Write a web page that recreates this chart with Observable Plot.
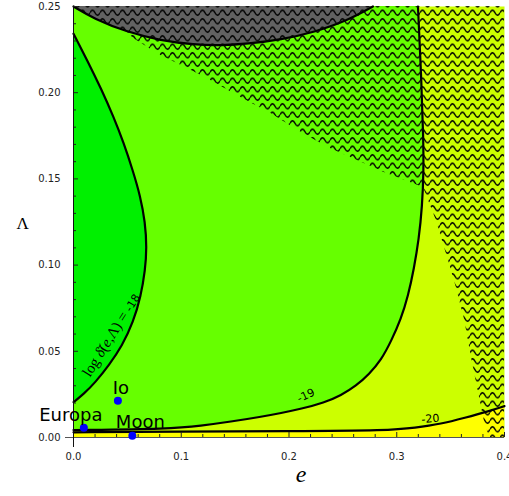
<!DOCTYPE html>
<html><head><meta charset="utf-8">
<script src="https://cdn.jsdelivr.net/npm/d3@7"></script>
<script src="https://cdn.jsdelivr.net/npm/@observablehq/plot@0.6"></script>
<style>body{margin:0;background:#fff}svg{display:block}</style>
</head><body><div id="chart"></div>
<script>
// ---- data: [e, Λ] ----
const xTicks = [0, 0.1, 0.2, 0.3, 0.4];
const yTicks = [0, 0.05, 0.10, 0.15, 0.20, 0.25];

const contour18 = [[0,0.0205],[0.0096,0.0253],[0.0200,0.0318],[0.0330,0.0420],[0.0450,0.0530],[0.0555,0.0670],[0.0625,0.0820],[0.0665,0.0970],[0.0680,0.1100],[0.0665,0.1250],[0.0620,0.1400],[0.0550,0.1550],[0.0465,0.1710],[0.0372,0.1860],[0.0255,0.2025],[0.0130,0.2185],[0,0.2342]];
const contour19 = [[0,0.0043],[0.0902,0.0050],[0.1181,0.0068],[0.146,0.0092],[0.174,0.0120],[0.1926,0.0142],[0.2112,0.0166],[0.2326,0.0202],[0.2484,0.0245],[0.2623,0.0300],[0.2744,0.0368],[0.2856,0.0450],[0.2949,0.0560],[0.3040,0.0690],[0.3105,0.0820],[0.3160,0.0980],[0.3205,0.1150],[0.3236,0.1340],[0.3250,0.1549],[0.3246,0.1750],[0.3230,0.2050],[0.3197,0.2500]];
const contour20 = [[0,0.0030],[0.1,0.0034],[0.2,0.0036],[0.2933,0.0041],[0.3166,0.0056],[0.3414,0.0079],[0.3631,0.0114],[0.3848,0.0151],[0.4,0.0182]];
const topBoundary = [[0,0.25],[0.0189,0.2429],[0.05,0.2351],[0.0809,0.2303],[0.1119,0.2278],[0.1367,0.2274],[0.1616,0.2283],[0.1926,0.2308],[0.2235,0.2351],[0.2546,0.2419],[0.2779,0.25]];
const hatchEdge = [[0,0.25],[0.0189,0.2429],[0.05,0.2351],[0.0558,0.2314],[0.0809,0.2216],[0.106,0.2140],[0.1274,0.2071],[0.1553,0.1972],[0.1833,0.1879],[0.2084,0.1781],[0.2363,0.1682],[0.2884,0.1537],[0.3247,0.1450],[0.3259,0.1433],[0.3367,0.1259],[0.346,0.1067],[0.3553,0.087],[0.3631,0.0679],[0.3693,0.0464],[0.3755,0.0273],[0.3817,0.0081],[0.3863,0],[0.4,0]];

const bodyNames = ["Europa", "Io", "Moon"];
const bodyE = [0.0096, 0.0412, 0.0546];
const bodyL = [0.0056, 0.0213, 0.0010];

const contourLevels = ["-18", "-19", "-20"];

// ---- tables ----
const pts = a => a.map(([e, L]) => ({e, L}));
const c18 = pts(contour18), c19 = pts(contour19), c20 = pts(contour20);
const top_ = pts(topBoundary), hatch = pts(hatchEdge);
const bodies = bodyNames.map((name, i) => ({name, e: bodyE[i], L: bodyL[i]}));

const W = 509, H = 496, mL = 73, mR = 5, mT = 6, mB = 59;
const plotW = W - mL - mR, plotH = H - mT - mB;
const HATCH = "#010203";
const curve = "basis";
const lw = 2.2;

const yMinor = d3.range(1, 25).map(i => i / 100).filter((d, i) => (i + 1) % 5 !== 0);
const xMinor = d3.range(1, 20).map(i => i / 50).filter((d, i) => (i + 1) % 5 !== 0);

const sans = "DejaVu Sans";
const serif = "Liberation Serif";

const svg = Plot.plot({
  width: W, height: H,
  marginLeft: mL, marginRight: mR, marginTop: mT, marginBottom: mB,
  x: {domain: [0, 0.4], axis: null},
  y: {domain: [0, 0.25], axis: null},
  style: {fontFamily: sans, fontSize: "10px", background: "white", overflow: "visible"},
  marks: [
    Plot.frame({fill: "#ccff00", stroke: "none"}),
    Plot.areaX(c19, {y: "L", x1: 0, x2: "e", fill: "#66ff00", curve}),
    Plot.areaX(c18, {y: "L", x1: 0, x2: "e", fill: "#00f000", curve}),
    Plot.areaY(c20, {x: "e", y1: 0, y2: "L", fill: "#ffff00", curve}),
    Plot.areaY(top_, {x: "e", y1: "L", y2: 0.25, fill: "#626262", curve}),
    Plot.areaY(hatch, {x: "e", y1: "L", y2: 0.25, fill: HATCH}),
    Plot.line(c18, {x: "e", y: "L", stroke: "black", strokeWidth: lw, curve}),
    Plot.line(c19, {x: "e", y: "L", stroke: "black", strokeWidth: lw, curve}),
    Plot.line(c20, {x: "e", y: "L", stroke: "black", strokeWidth: lw, curve}),
    Plot.line(top_, {x: "e", y: "L", stroke: "black", strokeWidth: lw, curve}),
    // ticks (inward)
    Plot.tickY(yMinor, {y: d => d, insetRight: plotW - 3, stroke: "#222"}),
    Plot.tickY(yTicks, {y: d => d, insetRight: plotW - 5, stroke: "#222"}),
    Plot.tickX(xMinor, {x: d => d, insetTop: plotH - 3, stroke: "#222"}),
    Plot.tickX(xTicks, {x: d => d, insetTop: plotH - 5, stroke: "#222"}),
    // axis lines
    Plot.ruleY([0], {insetLeft: -8, stroke: "#555"}),
    Plot.ruleX([0], {insetBottom: -10, stroke: "#111"}),
    Plot.axisY({ticks: yTicks, tickSize: 0, tickPadding: 13, tickFormat: d3.format(".2f"), label: null, fill: "#222", fontSize: 10}),
    Plot.axisX({ticks: xTicks, tickSize: 0, tickPadding: 15, tickFormat: d3.format(".1f"), label: null, fill: "#222", fontSize: 10}),
    Plot.text(["e"], {frameAnchor: "bottom", text: d => d, dx: 12, dy: 44, fontSize: 24, fontStyle: "italic", fontFamily: serif}),
    Plot.text(["Λ"], {frameAnchor: "left", text: d => d, dx: -57, dy: 2, fontSize: 17, fontFamily: serif}),
    // contour labels
    Plot.text([{e: 0.0350, L: 0.0595}], {x: "e", y: "L", text: () => "log δ̄(e,Λ) = " + contourLevels[0], rotate: -58, fontSize: 15, fontFamily: serif}),
    Plot.text([{e: 0.2158, L: 0.0244}], {x: "e", y: "L", text: () => contourLevels[1], rotate: -25, fontSize: 11}),
    Plot.text([{e: 0.3312, L: 0.0108}], {x: "e", y: "L", text: () => contourLevels[2], rotate: -5, fontSize: 11}),
    // bodies
    Plot.dot(bodies, {x: "e", y: "L", r: 4, fill: "#0000ff", stroke: "none"}),
    Plot.text(bodies.filter(d => d.name === "Europa"), {x: "e", y: "L", text: "name", dx: -13, dy: -13, fontSize: 18}),
    Plot.text(bodies.filter(d => d.name === "Io"), {x: "e", y: "L", text: "name", dx: 3, dy: -13, fontSize: 18}),
    Plot.text(bodies.filter(d => d.name === "Moon"), {x: "e", y: "L", text: "name", dx: 8, dy: -14, fontSize: 18})
  ]
});

// wavy hatch pattern
const s = d3.select(svg);
const defs = s.insert("defs", ":first-child");
const pat = defs.append("pattern").attr("id", "wave").attr("patternUnits", "userSpaceOnUse")
  .attr("width", 10).attr("height", 8.5);
pat.append("path").attr("d", "M0,4.25 C1.7,0.9 3.3,0.9 5,4.25 S8.3,7.6 10,4.25")
  .attr("fill", "none").attr("stroke", "#000").attr("stroke-width", 1.5);
s.selectAll(`[fill="${HATCH}"]`).attr("fill", "url(#wave)");

// mixed styling for the -18 label
s.selectAll("text").filter(function () { return this.textContent.startsWith("log "); }).each(function () {
  const t = d3.select(this);
  t.text("");
  t.append("tspan").text("log ");
  t.append("tspan").attr("font-style", "italic").text("δ̄");
  t.append("tspan").text("(");
  t.append("tspan").attr("font-style", "italic").text("e");
  t.append("tspan").text(",Λ) = ");
  t.append("tspan").attr("font-family", sans).attr("font-size", 11).text(contourLevels[0]);
});

document.getElementById("chart").appendChild(svg);
</script>
</body></html>
